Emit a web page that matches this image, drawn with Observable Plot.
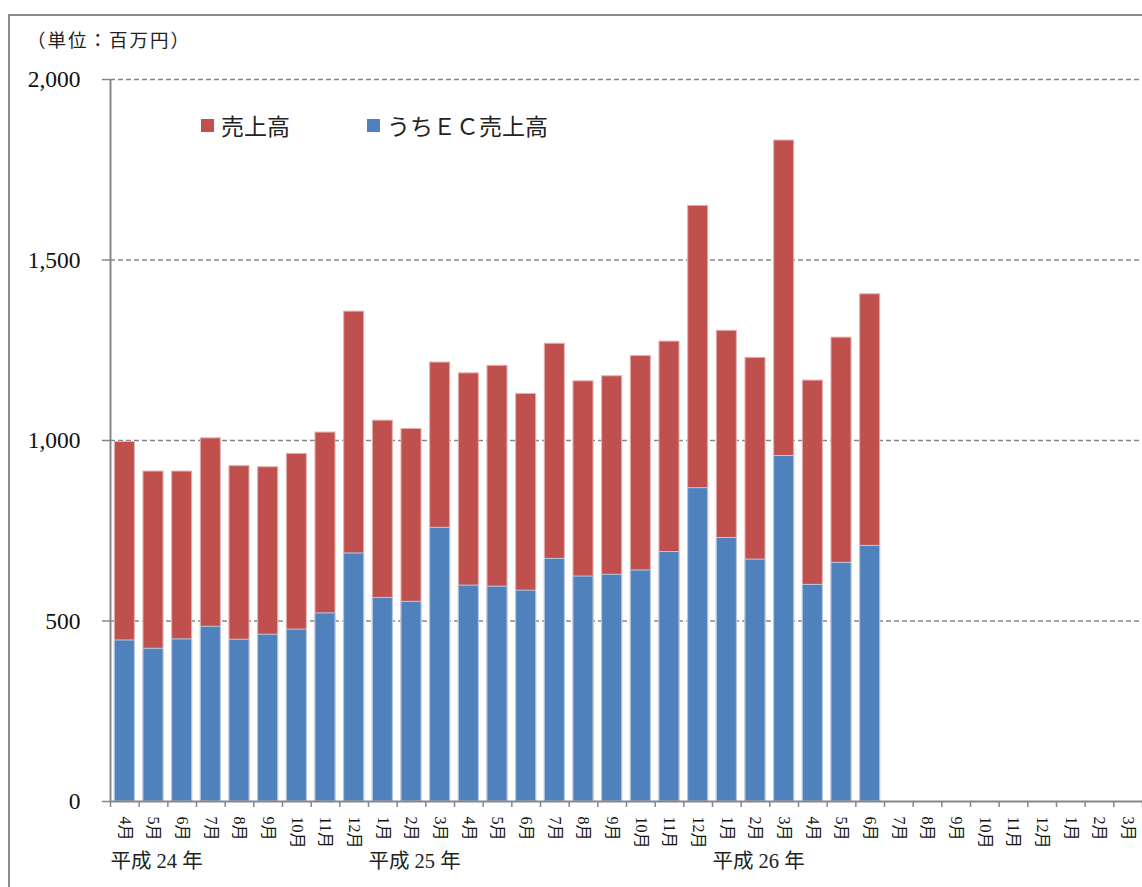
<!DOCTYPE html>
<html><head><meta charset="utf-8">
<script src="https://cdn.jsdelivr.net/npm/d3@7"></script>
<script src="https://cdn.jsdelivr.net/npm/@observablehq/plot@0.6"></script>
<style>
body{margin:0;background:#fff;overflow:hidden;}
#wrap{position:relative;width:1142px;height:887px;overflow:hidden;font-family:"Liberation Serif","Noto Sans CJK JP",serif;}
#frame{position:absolute;left:8px;top:14px;width:1300px;height:1000px;border:2px solid #8c8c8c;box-sizing:border-box;}
#unit{position:absolute;left:27px;top:26px;font-size:18.5px;letter-spacing:2px;color:#222;font-family:"Noto Sans CJK JP",serif;}
#legend{position:absolute;left:0;top:0;}
.lg{position:absolute;display:flex;align-items:center;font-size:23px;color:#222;font-family:"Noto Sans CJK JP",serif;white-space:nowrap;}
.sw{width:13px;height:13px;margin-right:7px;}
#chart{position:absolute;left:0;top:0;}
</style></head>
<body>
<div id="wrap">
  <div id="frame"></div>
  <div id="chart"></div>
  <div id="unit">（単位：百万円）</div>
  <div id="legend"></div>
</div>
<script>
// ---- data ----
const monthLabels = ["4月","5月","6月","7月","8月","9月","10月","11月","12月","1月","2月","3月",
                     "4月","5月","6月","7月","8月","9月","10月","11月","12月","1月","2月","3月",
                     "4月","5月","6月","7月","8月","9月","10月","11月","12月","1月","2月","3月"];
const yearLabels = ["平成 24 年","平成 25 年","平成 26 年"];
const yearStartIndex = [0, 9, 21];
const totalSales = [996,914,914,1006,929,926,963,1022,1357,1055,1032,1216,
                    1186,1207,1129,1268,1164,1178,1234,1274,1650,1304,1229,1831,
                    1166,1285,1405];
const ecSales = [446,423,449,484,448,462,476,521,687,564,553,758,
                 598,595,584,672,623,628,640,691,868,730,670,957,
                 600,661,708];
const seriesNames = ["売上高","うちＥＣ売上高"];
const seriesColors = ["#C0504D","#4F81BD"];
const yTicks = [0,500,1000,1500,2000];

// ---- build tables ----
const data = totalSales.map((t,i)=>({i, total:t, ec:ecSales[i]}));
const years = yearLabels.map((label,k)=>({i:yearStartIndex[k], label}));
const n = monthLabels.length;
const gray = "#878787";

const chart = Plot.plot({
  width:1142, height:887,
  marginLeft:110, marginRight:0, marginTop:79, marginBottom:86,
  style:{fontFamily:'"Liberation Serif","Noto Sans CJK JP",serif', background:"transparent"},
  x:{domain:[0,n], axis:null},
  y:{domain:[0,2000], axis:null},
  marks:[
    Plot.ruleY(yTicks.filter(d=>d>0), {stroke:gray, strokeDasharray:"5,3", strokeWidth:1.4}),
    Plot.rectY(data, {x:"i", interval:1, y:"total", fill:seriesColors[0], stroke:"#e3b3b2", strokeWidth:1, insetLeft:4.3, insetRight:4.3}),
    Plot.rectY(data, {x:"i", interval:1, y:"ec", fill:seriesColors[1], stroke:"#b9cce6", strokeWidth:1, insetLeft:4.3, insetRight:4.3}),
    Plot.ruleY([0], {stroke:gray, strokeWidth:2}),
    Plot.ruleX([0], {stroke:gray, strokeWidth:2}),
    Plot.axisY(yTicks, {tickSize:8, tickPadding:22, tickFormat:d3.format(","), fontSize:23.5, stroke:gray, strokeWidth:1.5, fill:"#111", label:null}),
    Plot.axisX(d3.range(n+1), {tickSize:6, tickFormat:()=>"", stroke:gray, strokeWidth:1.5, label:null}),
    Plot.axisX(d3.range(n).map(i=>i+0.5), {tickSize:0, tickPadding:15, tickRotate:90, tickFormat:d=>monthLabels[Math.floor(d)], fontSize:16, fill:"#111", label:null}),
    Plot.text(years, {x:"i", text:"label", frameAnchor:"bottom", dy:66, textAnchor:"start", fontSize:20.5, fill:"#222"})
  ]
});
document.getElementById("chart").appendChild(chart);

// legend
const legendPos = [{left:201, top:108},{left:367, top:108}];
const lg = document.getElementById("legend");
seriesNames.forEach((name,k)=>{
  const d = document.createElement("div");
  d.className = "lg";
  d.style.left = legendPos[k].left+"px";
  d.style.top = legendPos[k].top+"px";
  d.innerHTML = `<span class="sw" style="background:${seriesColors[k]}"></span><span>${name}</span>`;
  lg.appendChild(d);
});
</script>
</body></html>
